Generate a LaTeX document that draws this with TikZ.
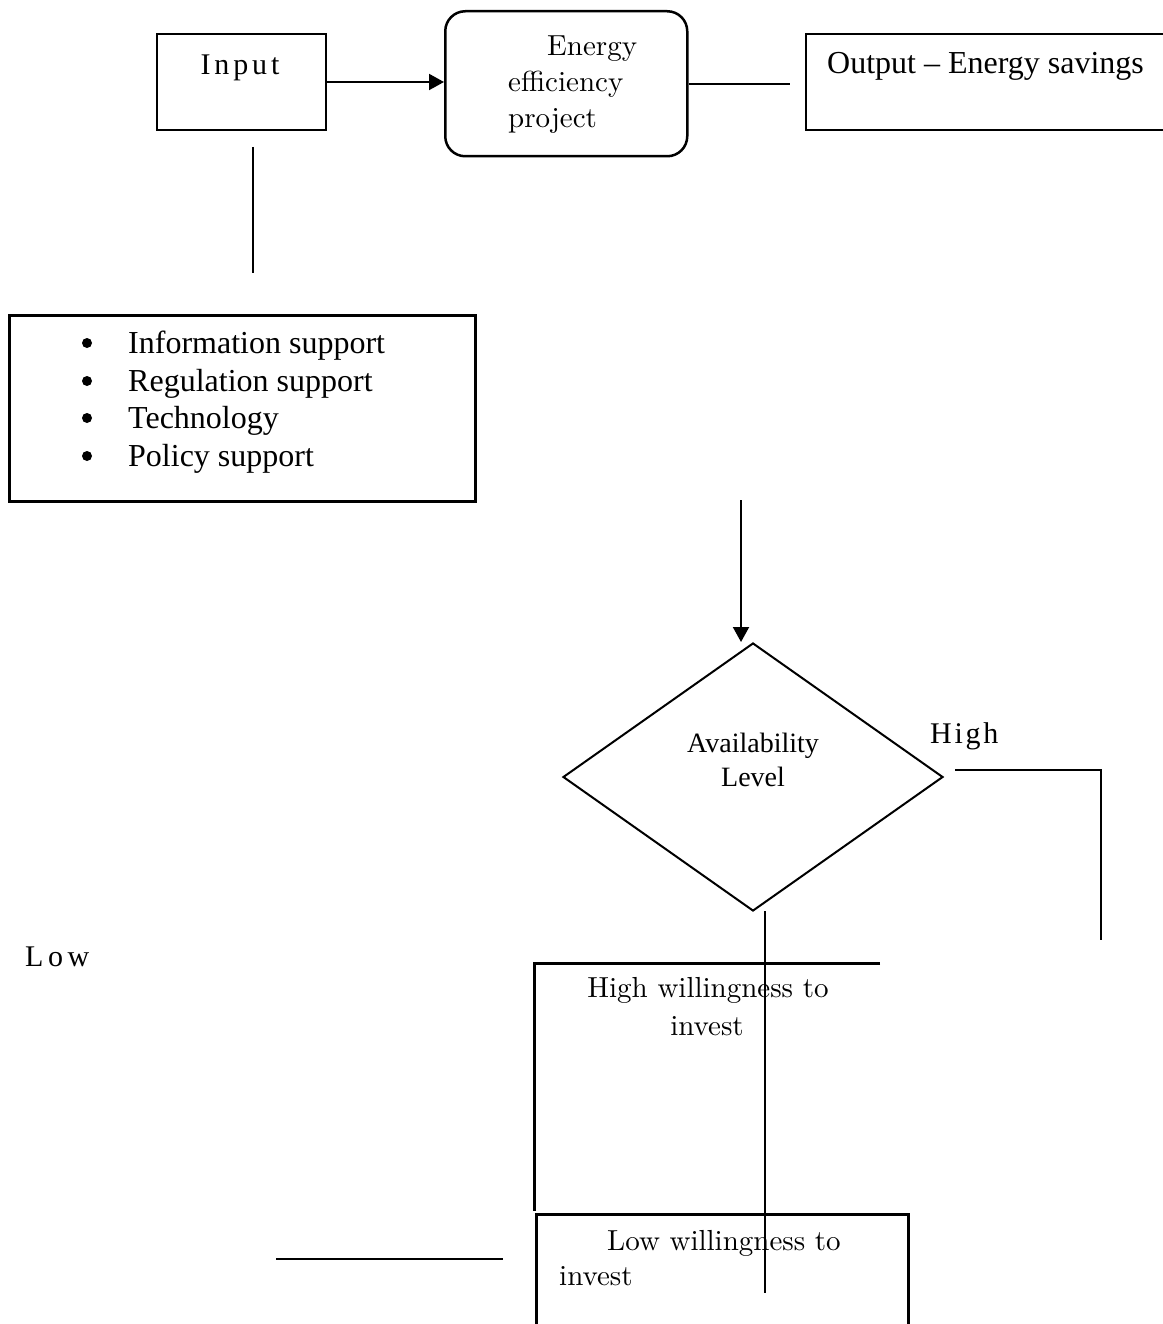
\documentclass[tikz,border=0pt]{standalone}
\usepackage{fontspec}
\newfontfamily\tms{Liberation Serif}
\newfontfamily\lmten{lmroman10-regular}[Extension=.otf]
\usetikzlibrary{shapes.geometric,arrows.meta}
\tikzset{
  frame/.style={draw, line width=#1, inner sep=0pt, anchor=north west},
  frame/.default=2pt,
  wire/.style={line width=2pt},
  thickwire/.style={line width=3pt},
  flow/.style={line width=2pt, -{Triangle[length=15pt,width=16pt]}},
  gtxt/.style={inner sep=0pt, font=\lmten\fontsize{29}{35}\selectfont},
  ttxt/.style={inner sep=0pt, font=\tms\fontsize{32}{38}\selectfont},
  spaced/.style={inner sep=0pt, font=\tms\fontsize{30}{36}\selectfont\addfontfeatures{LetterSpace=#1}},
  dot/.style={fill=black},
}
\begin{document}
\begin{tikzpicture}[x=1pt,y=-1pt]
\useasboundingbox[fill=white] (0,0) rectangle (1162,1324);

% ---- top row: input, project, output
\node[frame, minimum width=169pt, minimum height=96pt] (inp) at (156,33) {};
\node[spaced=13, anchor=base] (inpT) at (240,75) {Input};

\node[frame=2.5pt, rounded corners=20pt, minimum width=242pt, minimum height=145pt] (eep) at (444,10) {};
\node[gtxt, anchor=base west] (e1) at (547,56) {Energy};
\node[gtxt, anchor=base west] (e2) at (508,92) {efficiency};
\node[gtxt, anchor=base west] (e3) at (508,128) {project};

\node[frame, minimum width=400pt, minimum height=96pt] (outb) at (805,33) {};
\node[ttxt, anchor=base west] (outT) at (827,74) {Output – Energy savings};

\draw[flow] (inp.east) -- (inp.east -| eep.west);
\coordinate (outgap) at (790,81);
\draw[wire] (eep.east) -- (eep.east -| outgap);

\coordinate (inpA) at (253,147);
\coordinate (inpB) at (253,273);
\draw[wire] (inpA) -- (inpB);

% ---- support measures (bulleted list)
\node[frame=3pt, minimum width=466pt, minimum height=186pt] (sup) at (8,314) {};
\foreach \t/\yy [count=\i] in {Information support/353, Regulation support/391, Technology/428, Policy support/466}{
  \node[ttxt, anchor=base west] (item\i) at (128,\yy) {\t};
  \fill[dot] (87,{\yy-10}) circle (5pt);
}

% ---- decision
\coordinate (dtop) at (741,500);
\node[draw, diamond, line width=2pt, inner sep=0pt, minimum width=380pt, minimum height=268pt] (dia) at (753,777) {};
\node[ttxt, font=\tms\fontsize{28}{34}\selectfont, align=center] (diaT) at (753,760) {Availability\\Level};
\draw[flow] (dtop) -- (dtop |- dia.north);

\node[spaced=9, anchor=base west] (hiT) at (930,743) {High};
\coordinate (hA) at (955,770);
\coordinate (hB) at (1101,770);
\coordinate (hC) at (1101,940);
\draw[wire] (hA) -- (hB) -- (hC);

\node[spaced=15, anchor=base west] (loT) at (25,966) {Low};

% ---- willingness boxes
\coordinate (hwTR) at (880,963);
\coordinate (hwTL) at (534,963);
\coordinate (hwBL) at (534,1211);
\draw[thickwire] (hwTR) -- (hwTL) -- (hwBL);
\node[gtxt, anchor=base] (hwT1) at (708,997) {High willingness to};
\node[gtxt, anchor=base] (hwT2) at (707,1035) {invest};

\node[frame=3pt, minimum width=372pt, minimum height=140pt] (lowb) at (535,1213) {};
\node[gtxt, anchor=base west] (lwT1) at (607,1250) {Low willingness to};
\node[gtxt, anchor=base west] (lwT2) at (559,1285) {invest};

\coordinate (vA) at (765,911);
\coordinate (vB) at (765,1293);
\draw[wire] (vA) -- (vB);

\coordinate (lA) at (276,1259);
\coordinate (lB) at (503,1259);
\draw[wire] (lA) -- (lB);
\end{tikzpicture}
\end{document}
